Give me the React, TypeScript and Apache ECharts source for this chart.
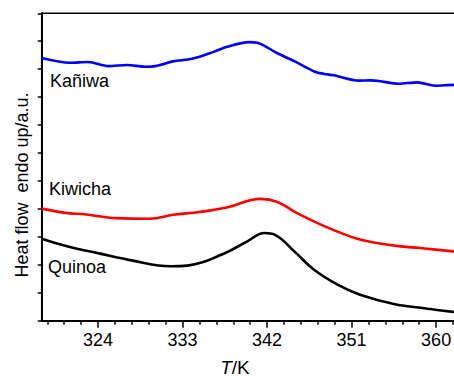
import React, { useEffect, useRef } from "react";
import * as echarts from "echarts";

const kaniwaT = [318, 321.0, 322.95, 325.1, 327.1, 329.0, 330.1, 332.0, 334.0, 336.3, 337.75, 340.07, 340.95, 343.1, 345.0, 347.1, 348.1, 349.1, 351.8, 353.0, 353.9, 356.0, 358.0, 359.9, 361.9, 363];
const kaniwaV = [9.40, 9.23, 9.26, 9.11, 9.15, 9.09, 9.11, 9.28, 9.37, 9.62, 9.80, 9.97, 9.95, 9.57, 9.27, 8.91, 8.83, 8.78, 8.59, 8.60, 8.58, 8.48, 8.53, 8.41, 8.44, 8.44];

const kiwichaT = [318, 321.0, 322.3, 326.0, 329.5, 332.0, 334.8, 337.7, 341.3, 343.1, 345.2, 348.4, 351.6, 353.7, 356.2, 358.3, 361.9, 363];
const kiwichaV = [4.01, 3.84, 3.82, 3.67, 3.65, 3.79, 3.89, 4.05, 4.36, 4.25, 3.85, 3.34, 2.93, 2.78, 2.66, 2.60, 2.48, 2.46];

const quinoaT = [318, 320.7, 324.2, 327.7, 331.7, 333.5, 335.2, 336.7, 337.8, 339.9, 341.7, 342.8, 344.9, 347.0, 349.5, 351.9, 355.5, 359.1, 361.9, 363];
const quinoaV = [2.93, 2.66, 2.40, 2.15, 1.95, 1.97, 2.10, 2.30, 2.46, 2.84, 3.14, 3.08, 2.48, 1.82, 1.29, 0.93, 0.60, 0.43, 0.31, 0.28];

const majorTicks = [324, 333, 342, 351, 360];
const minorTicks = [318.6, 320.4, 322.2, 325.8, 327.6, 329.4, 331.2, 334.8, 336.6, 338.4, 340.2, 343.8, 345.6, 347.4, 349.2, 352.8, 354.6, 356.4, 358.2, 361.8];

const seriesNames = ["Kañiwa", "Kiwicha", "Quinoa"];
const yTitle = "Heat flow  endo up/a.u.";

const zip = (a: number[], b: number[]) => a.map((t, i) => [t, b[i]]);

export default function App() {
  const ref = useRef<HTMLDivElement>(null);
  useEffect(() => {
    document.body.style.margin = "0";
    const chart = echarts.init(ref.current!, null, { renderer: "svg" });
    const font = "Liberation Sans, Arial, sans-serif";
    const xBase = {
      type: "value",
      min: 318,
      max: 363,
      gridIndex: 0,
      splitLine: { show: false },
    };
    chart.setOption({
      animation: false,
      grid: {
        left: 41.7,
        top: 13.3,
        width: 422.6,
        height: 307.4,
        outerBoundsMode: "none",
        containLabel: false,
        show: true,
        borderColor: "#000",
        borderWidth: 1.5,
        backgroundColor: "transparent",
      },
      xAxis: [
        {
          ...xBase,
          position: "bottom",
          axisLine: { show: true, onZero: false, lineStyle: { color: "#000", width: 2 } },
          axisTick: { show: true, inside: false, length: 7, customValues: majorTicks, lineStyle: { color: "#000", width: 1.5 } },
          axisLabel: { show: true, customValues: majorTicks, margin: 10, color: "#000", fontSize: 18, fontFamily: font },
        },
        {
          ...xBase,
          position: "bottom",
          axisLine: { show: false },
          axisTick: { show: true, inside: false, length: 4, customValues: minorTicks, lineStyle: { color: "#000", width: 1.5 } },
          axisLabel: { show: false },
        },
      ],
      yAxis: {
        type: "value",
        min: 0,
        max: 11,
        interval: 1,
        axisLine: { show: true, lineStyle: { color: "#000", width: 2 } },
        axisTick: { show: true, inside: false, length: 4, lineStyle: { color: "#000", width: 1.5 } },
        axisLabel: { show: false },
        splitLine: { show: false },
      },
      series: [
        { name: seriesNames[0], type: "line", data: zip(kaniwaT, kaniwaV), showSymbol: false, smooth: 0.3, lineStyle: { color: "#0000ff", width: 2.6 }, clip: true },
        { name: seriesNames[1], type: "line", data: zip(kiwichaT, kiwichaV), showSymbol: false, smooth: 0.4, lineStyle: { color: "#ff0000", width: 2.6 }, clip: true },
        { name: seriesNames[2], type: "line", data: zip(quinoaT, quinoaV), showSymbol: false, smooth: 0.4, lineStyle: { color: "#000000", width: 2.6 }, clip: true },
      ],
      graphic: [
        { type: "text", left: 50, top: 72, style: { text: seriesNames[0], fontSize: 18, fontFamily: font, fill: "#000" } },
        { type: "text", left: 49, top: 180, style: { text: seriesNames[1], fontSize: 18, fontFamily: font, fill: "#000" } },
        { type: "text", left: 48, top: 258, style: { text: seriesNames[2], fontSize: 18, fontFamily: font, fill: "#000" } },
        {
          type: "text",
          x: 22,
          y: 185,
          rotation: Math.PI / 2,
          style: { text: yTitle, fontSize: 18, fontFamily: font, fill: "#000", align: "center", verticalAlign: "middle" },
        },
        {
          type: "text",
          x: 235,
          y: 367,
          style: {
            text: "{i|T}/K",
            fontSize: 19,
            fontFamily: font,
            fill: "#000",
            align: "center",
            verticalAlign: "middle",
            rich: { i: { fontStyle: "italic", fontSize: 19, fontFamily: font, fill: "#000" } },
          },
        },
      ],
    });
    return () => chart.dispose();
  }, []);
  return <div ref={ref} style={{ width: 454, height: 376 }} />;
}
